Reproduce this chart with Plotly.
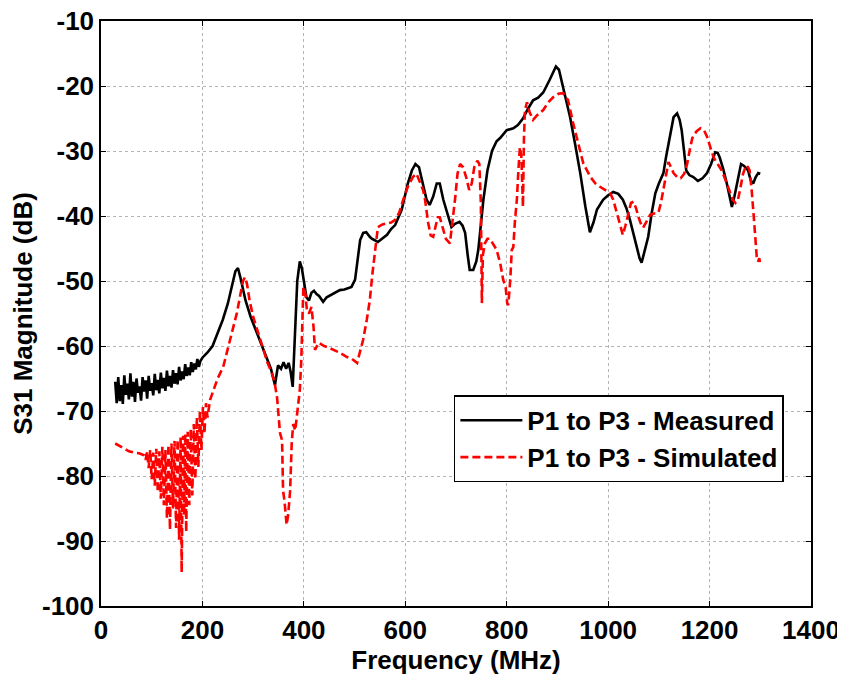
import plotly.graph_objects as go

# ---------------- data ----------------
meas_freq = [28, 31, 34, 37, 40, 43, 46, 49, 52, 55, 58, 61, 64, 67, 70, 73, 76, 79, 82, 85,
             88, 91, 94, 97, 100, 103, 106, 109, 112, 115, 118, 121, 124, 127, 130, 133, 136,
             139, 142, 145, 148, 151, 154, 157, 160, 163, 166, 169, 172, 175, 178, 181, 184,
             187, 190, 193, 196, 200,
             210, 220, 230, 240, 250, 258, 265, 270, 275, 285, 295, 305, 315, 327, 335, 343,
             349, 355, 360, 365, 370, 374, 378, 382, 387, 392, 396, 400, 405, 410, 415, 420,
             425, 430, 438, 445, 452, 460, 471, 480, 494, 501, 506, 511, 517, 523, 530, 534,
             546, 555, 564, 572, 580, 593, 605, 613, 620, 627, 635, 642, 648, 655, 662, 668,
             675, 682, 691, 698, 707, 713, 718, 723, 727, 734, 740, 744, 749, 754, 762, 771,
             780, 787, 800, 813, 822, 832, 842, 852, 862, 872, 885, 897, 903, 911, 918, 925,
             935, 945, 955, 964, 971, 978, 990, 1000, 1010, 1020, 1029, 1036, 1043, 1050, 1056,
             1062, 1066, 1072, 1079, 1086, 1093, 1100, 1109, 1114, 1119, 1125, 1129, 1136, 1141,
             1145, 1150, 1154, 1160, 1168, 1177, 1186, 1195, 1203, 1211, 1216, 1220, 1227, 1234,
             1240, 1244, 1249, 1254, 1258, 1262, 1268, 1276, 1281, 1286, 1291, 1296, 1300]
meas_db = [-65.5, -68.8, -64.8, -68.5, -66.0, -68.9, -64.5, -67.5, -65.8, -68.2, -64.2, -67.8,
           -65.5, -68.6, -65.0, -67.2, -66.2, -68.4, -64.8, -67.0, -65.3, -68.1, -64.6, -66.9,
           -65.7, -67.6, -64.3, -66.8, -65.2, -67.3, -64.1, -66.5, -64.9, -66.9, -63.8, -66.2,
           -64.6, -66.4, -63.7, -65.8, -64.2, -65.9, -63.2, -65.3, -63.9, -65.1, -62.8, -64.6,
           -63.3, -64.5, -62.5, -64.0, -62.7, -63.6, -62.0, -63.2, -62.3, -61.8,
           -61.0, -60.0, -58.0, -56.0, -53.5, -51.0, -48.5, -48.0, -49.5, -53.0, -55.5, -57.5,
           -59.5, -61.7, -63.5, -66.0, -63.0, -63.5, -62.5, -63.5, -62.6, -64.0, -66.3, -59.0,
           -50.0, -47.0, -48.0, -50.0, -52.5, -53.0, -51.8, -51.5, -52.0, -52.3, -53.2, -52.5,
           -52.2, -51.8, -51.4, -51.3, -50.9, -49.8, -47.0, -43.7, -42.6, -42.5, -43.2, -43.5,
           -44.0, -43.5, -42.9, -42.0, -41.4, -39.0, -35.0, -33.0, -32.0, -32.5, -35.0, -37.5,
           -38.3, -37.0, -35.0, -35.0, -37.5, -39.5, -41.7, -41.2, -40.9, -41.5, -42.6, -46.0,
           -48.3, -48.3, -47.0, -45.2, -41.0, -37.5, -33.0, -30.0, -28.5, -28.0, -26.8, -26.5,
           -26.0, -25.0, -23.5, -22.2, -21.8, -21.0, -19.0, -17.0, -17.5, -20.0, -22.5, -24.8,
           -29.0, -33.4, -38.5, -42.5, -41.0, -39.0, -37.5, -36.8, -36.3, -36.6, -37.5, -38.8,
           -40.6, -42.8, -44.8, -46.5, -47.2, -45.5, -43.2, -39.5, -36.5, -35.0, -33.4, -31.0,
           -28.8, -26.0, -24.8, -24.2, -25.2, -26.8, -30.0, -33.0, -33.7, -34.0, -34.6, -34.2,
           -33.4, -32.0, -30.2, -30.3, -31.0, -32.8, -35.0, -37.5, -38.6, -37.0, -35.0, -33.0,
           -32.0, -32.3, -33.0, -34.5, -35.0, -34.0, -33.4, -33.5]

sim_freq = [28, 35, 45, 55, 65, 75, 85,
            88, 91, 94, 97, 100, 103, 106, 109, 112, 115, 118, 121, 124, 127, 130, 133, 136,
            139, 142, 145, 148, 151, 154, 157, 159, 162, 164, 166, 168, 171, 174, 177, 180,
            183, 186, 189, 192, 195, 198, 201, 204, 207, 210, 215,
            221, 230, 241, 248, 254, 261, 268, 275, 280, 284, 288, 293, 300, 310, 320, 328,
            337, 342, 347, 353, 357, 359, 362, 366, 369, 373, 376, 379, 383, 386, 389, 392,
            395, 397, 399, 403, 406, 410, 415, 419, 422, 429, 440, 450, 458, 470, 485, 495,
            505, 511, 517, 524, 530, 535, 540, 546, 555, 564, 572, 580, 588, 596, 605, 615,
            622, 630, 635, 639, 645, 650, 655, 660, 664, 668, 674, 680, 688, 693, 698, 703,
            708, 714, 720, 726, 731, 736, 742, 746, 749, 751, 753, 757, 762, 767, 773, 780,
            787, 793, 798, 801, 803, 807, 810, 813, 816, 820, 823, 826, 829, 832, 834, 836,
            840, 845, 852, 860, 872, 882, 892, 902, 911, 916, 921, 926, 931, 940, 951, 965,
            975, 984, 994, 1004, 1010, 1017, 1023, 1029, 1034, 1040, 1045, 1050, 1055, 1060,
            1065, 1069, 1076, 1083, 1091, 1099, 1104, 1109, 1114, 1119, 1124, 1129, 1136, 1143,
            1150, 1156, 1161, 1166, 1174, 1182, 1189, 1195, 1201, 1208, 1216, 1224, 1232, 1241,
            1246, 1251, 1256, 1260, 1266, 1272, 1276, 1279, 1283, 1288, 1293, 1296, 1298, 1300]
sim_db = [-75.0, -75.3, -75.8, -76.2, -76.4, -76.5, -76.8,
          -77.5, -76.2, -78.8, -76.0, -80.5, -76.4, -81.5, -75.8, -82.5, -76.2, -83.5, -75.5,
          -84.5, -76.0, -86.5, -75.2, -88.3, -75.0, -85.0, -74.6, -88.0, -74.4, -89.8, -74.0,
          -94.8, -73.8, -86.0, -73.5, -88.6, -73.2, -84.5, -72.8, -83.0, -72.0, -80.5, -71.0,
          -78.6, -70.0, -76.0, -69.4, -73.5, -68.8, -71.0, -68.3,
          -67.0, -65.0, -63.2, -61.0, -59.0, -57.0, -54.9, -52.0, -50.0, -49.4, -50.5, -53.0,
          -55.5, -58.0, -60.6, -62.5, -64.2, -65.5, -67.8, -73.4, -74.5, -82.2, -84.0, -87.5,
          -86.0, -82.2, -75.0, -72.0, -73.0, -70.9, -68.0, -66.8, -62.0, -55.0, -50.9, -52.0,
          -54.5, -55.0, -54.0, -57.0, -60.6, -59.5, -60.0, -60.3, -60.6, -61.0, -61.7, -62.0,
          -62.6, -61.0, -59.0, -56.0, -53.0, -49.0, -45.2, -41.7, -41.3, -41.1, -41.0, -40.6,
          -39.5, -37.5, -35.5, -34.0, -33.5, -35.0, -36.0, -37.5, -41.0, -43.0, -43.2, -41.5,
          -40.2, -40.2, -42.0, -43.5, -44.2, -41.0, -37.5, -33.5, -32.0, -32.5, -34.0, -36.0,
          -35.0, -32.5, -31.5, -32.0, -38.0, -53.4, -46.0, -44.2, -43.5, -43.5, -44.3, -45.2,
          -47.2, -49.8, -51.0, -53.4, -53.7, -49.8, -45.2, -44.8, -41.0, -37.5, -33.0, -29.4,
          -31.0, -38.6, -28.0, -23.7, -22.5, -24.0, -25.2, -24.5, -23.7, -22.5, -21.7, -21.2,
          -21.1, -21.5, -22.2, -24.0, -25.7, -28.5, -31.9, -34.0, -35.0, -35.5, -36.0, -36.5,
          -37.5, -39.5, -41.5, -42.9, -41.5, -39.5, -38.0, -37.8, -38.8, -40.2, -41.3, -41.8,
          -40.8, -39.8, -39.6, -39.5, -38.0, -36.0, -33.5, -31.7, -32.5, -33.4, -34.0, -34.2,
          -33.5, -31.9, -29.8, -28.0, -27.0, -26.5, -26.8, -27.8, -29.3, -31.0, -32.0, -33.0,
          -34.6, -36.5, -37.5, -38.0, -37.5, -36.0, -33.5, -32.2, -32.5, -33.0, -36.0, -41.0,
          -46.3, -47.0, -46.5, -47.5]

x_ticks = [0, 200, 400, 600, 800, 1000, 1200, 1400]
x_tick_labels = ["0", "200", "400", "600", "800", "1000", "1200", "1400"]
y_ticks = [-100, -90, -80, -70, -60, -50, -40, -30, -20, -10]
y_tick_labels = ["-100", "-90", "-80", "-70", "-60", "-50", "-40", "-30", "-20", "-10"]

series_names = ["P1 to P3 - Measured", "P1 to P3 - Simulated"]

# ---------------- figure ----------------
FONT = "Arial, Liberation Sans, sans-serif"
FS = 26

fig = go.Figure()
fig.add_trace(go.Scatter(x=meas_freq, y=meas_db, mode="lines", name=series_names[0],
                         line=dict(color="black", width=2.6)))
fig.add_trace(go.Scatter(x=sim_freq, y=sim_db, mode="lines", name=series_names[1],
                         line=dict(color="#ff0000", width=2.6, dash="8px,4px")))

axis_common = dict(
    showline=True, linecolor="black", linewidth=1.5, mirror="ticks",
    ticks="inside", ticklen=5, tickcolor="black",
    showgrid=True, gridcolor="#b4b4b4", gridwidth=1, griddash="dot",
    zeroline=False, automargin=False, ticklabeloverflow="allow",
    tickfont=dict(family=FONT, size=FS, color="black", weight="bold"),
)

# the page body adds an 8px offset; margins compensate so the plot area
# lands at x 101..811, y 21..606 in the window
fig.update_layout(
    width=845, height=674,
    margin=dict(l=93, r=42, t=13, b=76),
    paper_bgcolor="white", plot_bgcolor="white",
    font=dict(family=FONT, color="black"),
    xaxis=dict(range=[0, 1400], tickvals=x_ticks, ticktext=x_tick_labels,
               title=dict(text="Frequency (MHz)", standoff=2,
                          font=dict(family=FONT, size=FS, color="black", weight="bold")),
               **axis_common),
    yaxis=dict(range=[-100, -10], tickvals=y_ticks, ticktext=y_tick_labels,
               ticklabelstandoff=0,
               title=dict(text="S31 Magnitude (dB)", standoff=10,
                          font=dict(family=FONT, size=FS, color="black", weight="bold")),
               **axis_common),
    showlegend=True,
    legend=dict(x=0.497, y=0.36, xanchor="left", yanchor="top",
                bgcolor="white", bordercolor="black", borderwidth=1.5,
                font=dict(family=FONT, size=FS, color="black", weight="bold"),
                itemwidth=62, tracegroupgap=0),
)

fig.write_html("out.html")
